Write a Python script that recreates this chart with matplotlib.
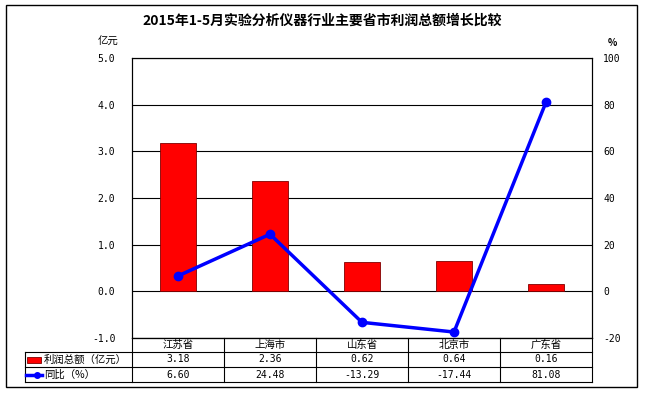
import matplotlib
matplotlib.use("Agg")
import matplotlib.pyplot as plt
from matplotlib.patches import Rectangle
from matplotlib.lines import Line2D

plt.rcParams['font.family'] = ['Noto Sans CJK SC', 'DejaVu Sans']

title = "2015年1-5月实验分析仪器行业主要省市利润总额增长比较"
categories = ["江苏省", "上海市", "山东省", "北京市", "广东省"]
profit = [3.18, 2.36, 0.62, 0.64, 0.16]
growth = [6.60, 24.48, -13.29, -17.44, 81.08]
profit_labels = ["3.18", "2.36", "0.62", "0.64", "0.16"]
growth_labels = ["6.60", "24.48", "-13.29", "-17.44", "81.08"]
series_names = ["利润总额（亿元）", "同比（%）"]
left_ticks = [-1.0, 0.0, 1.0, 2.0, 3.0, 4.0, 5.0]
right_ticks = [-20, 0, 20, 40, 60, 80, 100]

W, H = 645, 394
fig = plt.figure(figsize=(W / 100, H / 100), dpi=100)
fig.patch.set_facecolor("white")

# outer border
fig.add_artist(Rectangle((6 / W, 1 - 387 / H), (637 - 6) / W, (387 - 5) / H,
                         transform=fig.transFigure, fill=False, edgecolor="black", lw=1.0))

x0, x1, ytop, ybot = 132, 592, 58, 338
ax = fig.add_axes([x0 / W, 1 - ybot / H, (x1 - x0) / W, (ybot - ytop) / H])
ax2 = ax.twinx()

xs = list(range(len(categories)))
ax.bar(xs, profit, width=0.4, color="#ff0000", edgecolor="#800000", linewidth=0.6, zorder=3)
ax.set_xlim(-0.5, len(categories) - 0.5)
ax.set_ylim(-1.0, 5.0)
ax.set_yticks(left_ticks)
ax.set_yticklabels([f"{v:.1f}" for v in left_ticks], fontsize=7, family="DejaVu Sans Mono")
ax.set_xticks([])
ax.grid(axis="y", color="black", lw=0.8, zorder=0)
ax.set_axisbelow(True)
ax.tick_params(axis="y", length=0, pad=12)

ax2.plot(xs, growth, color="#0000ff", lw=2.5, marker="o", markersize=6, zorder=4)
ax2.set_ylim(-20, 100)
ax2.set_yticks(right_ticks)
ax2.set_yticklabels([str(v) for v in right_ticks], fontsize=7, family="DejaVu Sans Mono")
ax2.tick_params(axis="y", length=0, pad=8)
ax.set_zorder(ax2.get_zorder() - 1)
ax2.patch.set_visible(False)
for a in (ax, ax2):
    for s in a.spines.values():
        s.set_linewidth(0.8)

fig.text(322 / W, 1 - 21 / H, title, ha="center", va="center", fontsize=10, fontweight="bold")
fig.text(118 / W, 1 - 42 / H, "亿元", ha="right", va="center", fontsize=7.5)
fig.text(608 / W, 1 - 43 / H, "%", ha="left", va="center", fontsize=7, fontweight="bold")

# data table under the axis
axh = ybot - ytop
rows_px = [338, 352, 367, 382]
ry = [-(r - ybot) / axh for r in rows_px]
trans = ax.get_xaxis_transform()
colw = (x1 - x0) / len(categories)
lab_left = -0.5 - (x0 - 25) / colw
kw = dict(transform=trans, clip_on=False, color="black", lw=0.8)
# horizontal lines
ax.add_line(Line2D([-0.5, 4.5], [ry[0], ry[0]], **kw))
for r in ry[1:]:
    ax.add_line(Line2D([lab_left, 4.5], [r, r], **kw))
# vertical lines
for i in range(len(categories) + 1):
    ax.add_line(Line2D([i - 0.5, i - 0.5], [ry[0], ry[3]], **kw))
ax.add_line(Line2D([lab_left, lab_left], [ry[1], ry[3]], **kw))

for i, c in enumerate(categories):
    ax.text(i, (ry[0] + ry[1]) / 2, c, transform=trans, ha="center", va="center", fontsize=7.5)
    ax.text(i, (ry[1] + ry[2]) / 2, profit_labels[i], transform=trans, ha="center", va="center",
            fontsize=7, family="DejaVu Sans Mono")
    ax.text(i, (ry[2] + ry[3]) / 2, growth_labels[i], transform=trans, ha="center", va="center",
            fontsize=7, family="DejaVu Sans Mono")

# legend keys in label cells
fx = lambda px: px / W
fy = lambda py: 1 - py / H
fig.add_artist(Rectangle((fx(27), fy(362.5)), 14 / W, 6 / H, transform=fig.transFigure,
                         facecolor="#ff0000", edgecolor="#800000", lw=0.6))
fig.add_artist(Line2D([fx(26), fx(42)], [fy(374.5), fy(374.5)], transform=fig.transFigure,
                      color="#0000ff", lw=2.5))
fig.add_artist(Line2D([fx(37)], [fy(374.5)], transform=fig.transFigure, color="#0000ff",
                      marker="o", markersize=4))
fig.text(fx(44), fy(359.5), series_names[0], ha="left", va="center", fontsize=7.5)
fig.text(fx(44), fy(374.5), series_names[1], ha="left", va="center", fontsize=7.5)

fig.savefig("out.png", dpi=100, facecolor="white")
